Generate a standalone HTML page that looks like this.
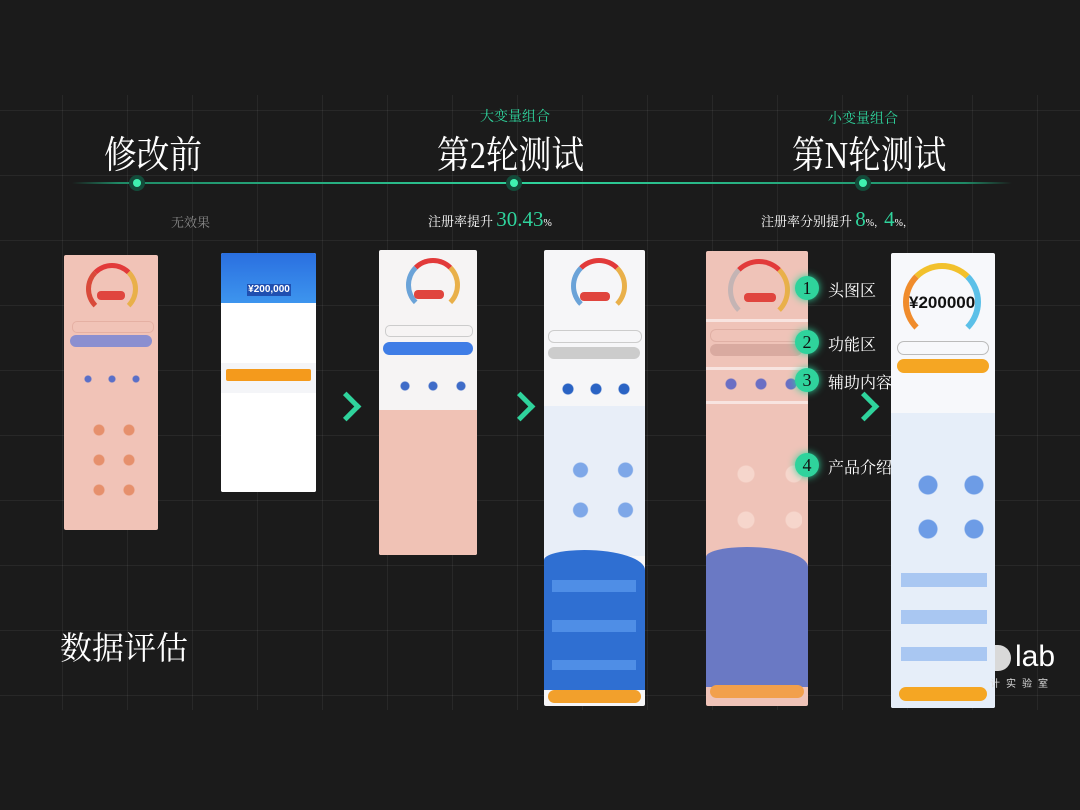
<!DOCTYPE html>
<html><head><meta charset="utf-8"><style>
body{margin:0;width:1080px;height:810px;overflow:hidden;background:#1b1b1b;font-family:"Liberation Serif","Noto Serif CJK SC",serif;position:relative}
.grid{position:absolute;left:0;top:95px;width:1080px;height:615px;background-image:linear-gradient(rgba(255,255,255,.06) 1px,transparent 1px),linear-gradient(90deg,rgba(255,255,255,.06) 1px,transparent 1px);background-size:65px 65px;background-position:62px 15px}
.a{position:absolute}
.t{color:#fff;font-size:38px;white-space:nowrap;transform:scaleX(.86);transform-origin:left top}
.g{color:#2fd39c}
.ph{position:absolute;overflow:hidden;border-radius:2px}
.gauge{position:absolute;border-radius:50%;border:5px solid;border-color:#e23a3a #e9b04a transparent #d94a3a}
.num{position:absolute;width:24px;height:24px;border-radius:50%;background:#2fd39c;color:#111;font-size:18px;text-align:center;line-height:24px;box-shadow:0 0 8px #2fd39c}
.lab{position:absolute;color:#fff;font-size:16px}
.chev{position:absolute;width:16px;height:16px;border-top:5px solid #2fd39c;border-right:5px solid #2fd39c;transform:rotate(45deg)}
.btn{position:absolute;border-radius:8px}
</style></head><body>
<div class="grid"></div>
<div class="a g" style="left:480px;top:106px;font-size:14px">大变量组合</div>
<div class="a g" style="left:828px;top:108px;font-size:14px">小变量组合</div>
<div class="a t" style="left:104px;top:124px">修改前</div>
<div class="a t" style="left:437px;top:124px">第2轮测试</div>
<div class="a t" style="left:792px;top:124px">第N轮测试</div>
<div class="a" style="left:72px;top:182px;width:940px;height:2px;background:linear-gradient(90deg,transparent,#1f8a66 5%,#2fd39c 50%,#1f8a66 95%,transparent)"></div>
<div class="a" style="left:129px;top:175px;width:16px;height:16px;border-radius:50%;background:#134b3a"><div style="margin:4px;width:8px;height:8px;border-radius:50%;background:#3ff0b0"></div></div>
<div class="a" style="left:506px;top:175px;width:16px;height:16px;border-radius:50%;background:#134b3a"><div style="margin:4px;width:8px;height:8px;border-radius:50%;background:#3ff0b0"></div></div>
<div class="a" style="left:855px;top:175px;width:16px;height:16px;border-radius:50%;background:#134b3a"><div style="margin:4px;width:8px;height:8px;border-radius:50%;background:#3ff0b0"></div></div>
<div class="a" style="left:171px;top:212px;color:#888;font-size:13px">无效果</div>
<div class="a" style="left:428px;top:207px;color:#fff;font-size:13px">注册率提升 <span class="g" style="font-size:21px">30.43</span><span style="font-size:10px">%</span></div>
<div class="a" style="left:761px;top:207px;color:#fff;font-size:13px">注册率分别提升 <span class="g" style="font-size:21px">8</span><span style="font-size:10px">%，</span><span class="g" style="font-size:21px">4</span><span style="font-size:10px">%，</span></div>

<!-- phone 1 -->
<div class="ph" style="left:64px;top:255px;width:94px;height:275px;background:#f1c3b7">
<div class="gauge" style="left:22px;top:8px;width:42px;height:42px"></div>
<div class="a" style="left:33px;top:36px;width:28px;height:9px;background:#e0453e;border-radius:4px"></div>
<div class="a" style="left:8px;top:66px;width:80px;height:10px;border:1px solid #e5b0a3;border-radius:5px"></div>
<div class="btn" style="left:6px;top:80px;width:82px;height:12px;background:#8b8fd0"></div>
<div class="a" style="left:12px;top:118px;width:70px;height:12px;background:radial-gradient(circle,#5a6fc8 3px,transparent 4px) 0 0/24px 12px"></div>
<div class="a" style="left:20px;top:160px;width:60px;height:90px;background:radial-gradient(circle,#e6906c 5px,transparent 6px) 0 0/30px 30px"></div>
</div>
<!-- phone 2 -->
<div class="ph" style="left:221px;top:253px;width:95px;height:239px;background:#f4f5f8">
<div class="a" style="left:0;top:0;width:95px;height:50px;background:linear-gradient(#2a6fe0,#3d95ee)"></div>
<div class="a" style="left:26px;top:31px;width:44px;height:12px;background:#1f4fb0;color:#fff;font:bold 10px 'Liberation Sans',sans-serif;text-align:center">¥200,000</div>
<div class="a" style="left:0;top:50px;width:95px;height:60px;background:#fff"></div>
<div class="btn" style="left:5px;top:116px;width:85px;height:12px;background:#f49a1c;border-radius:2px"></div>
<div class="a" style="left:0;top:140px;width:95px;height:99px;background:#fff"></div>
</div>
<div class="chev" style="left:336px;top:396px"></div>
<!-- phone 3 -->
<div class="ph" style="left:379px;top:250px;width:98px;height:305px;background:#f6f4f4">
<div class="gauge" style="left:27px;top:8px;width:44px;height:44px;border-color:#e23a3a #e9b04a transparent #6ba3d8"></div>
<div class="a" style="left:35px;top:40px;width:30px;height:9px;background:#e0453e;border-radius:4px"></div>
<div class="a" style="left:6px;top:75px;width:86px;height:10px;border:1px solid #ccc;border-radius:5px"></div>
<div class="btn" style="left:4px;top:92px;width:90px;height:13px;background:#3f7de6"></div>
<div class="a" style="left:12px;top:130px;width:80px;height:12px;background:radial-gradient(circle,#3f6cc8 4px,transparent 5px) 0 0/28px 12px"></div>
<div class="a" style="left:0;top:160px;width:98px;height:145px;background:#f0c2b5"></div>
</div>
<div class="chev" style="left:510px;top:396px"></div>
<!-- phone 4 -->
<div class="ph" style="left:544px;top:250px;width:101px;height:456px;background:#f6f6f8">
<div class="gauge" style="left:27px;top:8px;width:46px;height:46px;border-color:#e23a3a #e9b04a transparent #6ba3d8"></div>
<div class="a" style="left:36px;top:42px;width:30px;height:9px;background:#e0453e;border-radius:4px"></div>
<div class="a" style="left:4px;top:80px;width:92px;height:11px;border:1px solid #ccc;border-radius:6px"></div>
<div class="btn" style="left:4px;top:97px;width:92px;height:12px;background:#ccc"></div>
<div class="a" style="left:10px;top:132px;width:84px;height:14px;background:radial-gradient(circle,#2a63c4 5px,transparent 6px) 0 0/28px 14px"></div>
<div class="a" style="left:0;top:156px;width:101px;height:150px;background:#e8eef8"></div>
<div class="a" style="left:14px;top:200px;width:80px;height:80px;background:radial-gradient(circle,#7ea7e8 7px,transparent 8px) 0 0/45px 40px"></div>
<div class="a" style="left:0;top:300px;width:101px;height:140px;background:#2f6fd2;border-radius:40% 60% 0 0/10px 20px 0 0"></div>
<div class="a" style="left:8px;top:330px;width:84px;height:90px;background:linear-gradient(#4f8ee6 0 12px,transparent 12px) 0 0/84px 40px"></div>
<div class="btn" style="left:4px;top:440px;width:93px;height:13px;background:#f2a02c"></div>
</div>
<!-- phone 5 -->
<div class="ph" style="left:706px;top:251px;width:102px;height:455px;background:#efc3b8">
<div class="gauge" style="left:22px;top:8px;width:52px;height:52px;border-color:#e23a3a #e9b04a transparent #c4b4b4"></div>
<div class="a" style="left:38px;top:42px;width:32px;height:9px;background:#e0453e;border-radius:4px"></div>
<div class="a" style="left:0;top:68px;width:102px;height:3px;background:#f8e4e0"></div>
<div class="a" style="left:4px;top:78px;width:92px;height:11px;border:1px solid #e0b0a5;border-radius:6px"></div>
<div class="btn" style="left:4px;top:93px;width:92px;height:12px;background:#d9aaa0"></div>
<div class="a" style="left:0;top:116px;width:102px;height:3px;background:#f8e4e0"></div>
<div class="a" style="left:10px;top:126px;width:88px;height:14px;background:radial-gradient(circle,#6a6fc4 5px,transparent 6px) 0 0/30px 14px"></div>
<div class="a" style="left:0;top:150px;width:102px;height:3px;background:#f8e4e0"></div>
<div class="a" style="left:16px;top:200px;width:80px;height:80px;background:radial-gradient(circle,#f6d6cc 8px,transparent 9px) 0 0/48px 46px"></div>
<div class="a" style="left:0;top:296px;width:102px;height:140px;background:#6a79c4;border-radius:40% 60% 0 0/10px 20px 0 0"></div>
<div class="btn" style="left:4px;top:434px;width:94px;height:13px;background:#f2a04c"></div>
</div>
<div class="num" style="left:795px;top:276px">1</div><div class="lab" style="left:828px;top:278px">头图区</div>
<div class="num" style="left:795px;top:330px">2</div><div class="lab" style="left:828px;top:332px">功能区</div>
<div class="num" style="left:795px;top:368px">3</div><div class="lab" style="left:828px;top:370px">辅助内容</div>
<div class="num" style="left:795px;top:453px">4</div><div class="lab" style="left:828px;top:455px">产品介绍</div>
<div class="chev" style="left:854px;top:396px"></div>
<!-- phone 6 -->
<div class="ph" style="left:891px;top:253px;width:104px;height:455px;background:#f7f8fb">
<div class="gauge" style="left:12px;top:10px;width:66px;height:66px;border-width:6px;border-color:#f2c12c #5cc0e8 transparent #f08c2c"></div>
<div class="a" style="left:18px;top:40px;color:#111;font:bold 17px 'Liberation Sans',sans-serif">¥200000</div>
<div class="a" style="left:6px;top:88px;width:90px;height:12px;border:1px solid #bbb;border-radius:7px"></div>
<div class="btn" style="left:6px;top:106px;width:92px;height:14px;background:#f5a623"></div>
<div class="a" style="left:0;top:160px;width:104px;height:295px;background:#e6eef9"></div>
<div class="a" style="left:14px;top:210px;width:84px;height:80px;background:radial-gradient(circle,#6d9ce6 9px,transparent 10px) 0 0/46px 44px"></div>
<div class="a" style="left:10px;top:320px;width:86px;height:110px;background:linear-gradient(#a9c7f2 0 14px,transparent 14px) 0 0/86px 37px"></div>
<div class="btn" style="left:8px;top:434px;width:88px;height:14px;background:#f5a623"></div>
</div>
<div class="a" style="left:60px;top:623px;color:#fff;font-size:32px">数据评估</div>
<div class="a" style="left:995px;top:645px;width:16px;height:26px;border-radius:0 14px 14px 0;background:#eee;opacity:.9"></div>
<div class="a" style="left:1015px;top:640px;color:#fff;font:300 30px 'Liberation Sans',sans-serif">lab</div>
<div class="a" style="left:990px;top:675px;color:#ddd;font:10px 'Liberation Sans','Noto Sans CJK SC',sans-serif;letter-spacing:6px">计实验室</div>
</body></html>
